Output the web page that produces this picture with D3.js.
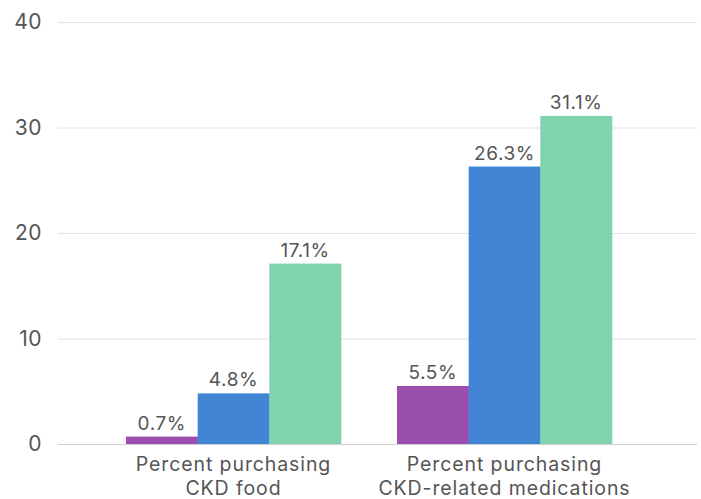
<!DOCTYPE html>
<html>
<head>
<meta charset="utf-8">
<script src="https://cdn.jsdelivr.net/npm/d3@7"></script>
<style>
    body { margin: 0; background: #fff; }
    text { font-family: Inter, "Noto Sans", sans-serif; fill: #555; }
</style>
</head>
<body>
<svg id="chart" width="701" height="499"></svg>
<script>
(function() {
    'use strict';

    var categories = [
        ['Percent purchasing', 'CKD food'],
        ['Percent purchasing', 'CKD-related medications']
    ];
    var seriesNames = ['Series 1', 'Series 2', 'Series 3'];
    var seriesColors = ['#9a4fae', '#4285d4', '#7fd3ae'];
    var values = [
        [0.7, 4.8, 17.1],
        [5.5, 26.3, 31.1]
    ];
    var yTicks = [0, 10, 20, 30, 40];

    var svg = d3.select('#chart');

    var y = d3.scaleLinear().domain([0, 40]).range([444, 22]);

    var x = d3.scaleBand()
        .domain(d3.range(categories.length))
        .range([126, 612])
        .paddingInner(56 / 271)
        .paddingOuter(0);

    var xs = d3.scaleBand()
        .domain(d3.range(seriesNames.length))
        .range([0, x.bandwidth()]);

    // gridlines
    svg.append('g')
        .selectAll('line')
        .data(yTicks)
        .enter().append('line')
        .attr('x1', 58)
        .attr('x2', 697)
        .attr('y1', function(d) { return y(d) + 0.5; })
        .attr('y2', function(d) { return y(d) + 0.5; })
        .attr('stroke', function(d) { return d === 0 ? '#d0d0d0' : '#e2e2e2'; })
        .attr('stroke-width', 1);

    var yAxis = d3.axisLeft(y).tickValues(yTicks).tickSize(0).tickPadding(0);
    svg.append('g')
        .attr('transform', 'translate(42,0)')
        .call(yAxis)
        .call(function(g) { g.select('.domain').remove(); })
        .selectAll('text')
        .style('font-size', '21px')
        .style('letter-spacing', '0.5px')
        .attr('fill', '#555')
        .attr('font-family', 'Inter, sans-serif');

    var group = svg.append('g')
        .selectAll('g')
        .data(values)
        .enter().append('g')
        .attr('transform', function(d, i) { return 'translate(' + x(i) + ',0)'; });

    group.selectAll('rect')
        .data(function(d) { return d; })
        .enter().append('rect')
        .attr('x', function(d, j) { return xs(j); })
        .attr('width', xs.bandwidth() + 0.3)
        .attr('y', function(d) { return y(d); })
        .attr('height', function(d) { return y(0) - y(d); })
        .attr('fill', function(d, j) { return seriesColors[j]; });

    group.selectAll('text.value')
        .data(function(d) { return d; })
        .enter().append('text')
        .attr('class', 'value')
        .attr('x', function(d, j) { return xs(j) + xs.bandwidth() / 2; })
        .attr('y', function(d) { return y(d) - 7; })
        .attr('text-anchor', 'middle')
        .style('font-size', '19px')
        .style('letter-spacing', '0.6px')
        .text(function(d) { return d.toFixed(1) + '%'; });

    var label = svg.append('g')
        .selectAll('text')
        .data(categories)
        .enter().append('text')
        .attr('text-anchor', 'middle')
        .style('font-size', '19.5px')
        .style('letter-spacing', '0.9px')
        .attr('x', function(d, i) { return x(i) + x.bandwidth() / 2; })
        .attr('y', 471);

    label.selectAll('tspan')
        .data(function(d) { return d; })
        .enter().append('tspan')
        .attr('x', function() { return d3.select(this.parentNode).attr('x'); })
        .attr('dy', function(d, k) { return k === 0 ? 0 : 24; })
        .text(function(d) { return d; });
}());
</script>
</body>
</html>
